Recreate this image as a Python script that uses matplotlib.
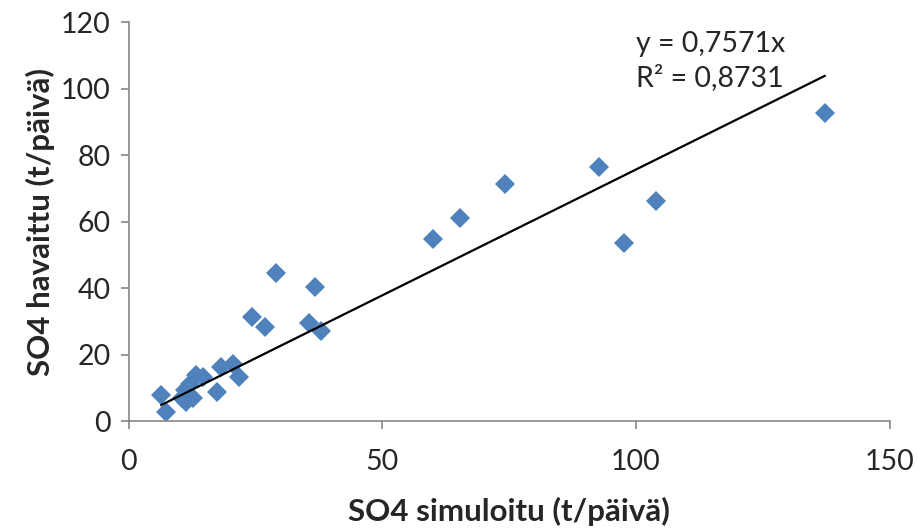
import matplotlib
matplotlib.use("Agg")
import matplotlib.pyplot as plt
import numpy as np

plt.rcParams['font.family'] = ['Lato', 'DejaVu Sans']

sim = [137.2, 92.7, 74.2, 65.2, 60.0, 104.0, 97.6,
       24.3, 26.8, 29.1, 36.8, 35.6, 37.8,
       6.4, 7.4, 11.0, 12.0, 13.3, 14.6, 11.3, 12.7, 10.4,
       17.3, 18.2, 20.5, 21.8]
obs = [92.6, 76.4, 71.3, 61.0, 54.7, 66.2, 53.5,
       31.2, 28.2, 44.5, 40.4, 29.4, 27.2,
       7.8, 2.8, 9.3, 11.3, 13.8, 13.3, 5.8, 6.8, 6.8,
       8.8, 16.3, 17.3, 13.3]
slope = 0.7571
r2_text = "0,8731"
x_ticks = [0, 50, 100, 150]
y_ticks = [0, 20, 40, 60, 80, 100, 120]

fig = plt.figure(figsize=(9.2, 5.31), dpi=100)
ax = fig.add_axes([0.140, 0.207, 0.827, 0.751])

ax.plot(sim, obs, linestyle='none', marker='D', markersize=10,
        color='#4F81BD', markeredgewidth=0, zorder=2)

xs = np.array([min(sim), max(sim)])
ax.plot(xs, slope * xs, color='black', linewidth=1.6, zorder=3)

ax.set_xlim(0, 150)
ax.set_ylim(0, 120)
ax.set_xticks(x_ticks)
ax.set_yticks(y_ticks)

for s in ['top', 'right']:
    ax.spines[s].set_visible(False)
for s in ['left', 'bottom']:
    ax.spines[s].set_color('#868686')
    ax.spines[s].set_linewidth(1.2)
ax.tick_params(axis='both', colors='#868686', length=6, width=1.2,
               labelsize=20.5, labelcolor='#262626', direction='out')
ax.tick_params(axis='x', pad=14)
ax.tick_params(axis='y', pad=7)

ax.set_xlabel('SO4 simuloitu (t/päivä)', fontsize=22.5, fontweight='bold',
              color='#262626', labelpad=16)
ax.set_ylabel('SO4 havaittu (t/päivä)', fontsize=22.5, fontweight='bold',
              color='#262626', labelpad=4)

ax.text(100, 113.5, 'y = 0,7571x', fontsize=20.5, color='#262626',
        va='center', ha='left')
ax.text(100, 103.5, 'R² = ' + r2_text, fontsize=20.5, color='#262626',
        va='center', ha='left')

fig.savefig('out.png', dpi=100)
